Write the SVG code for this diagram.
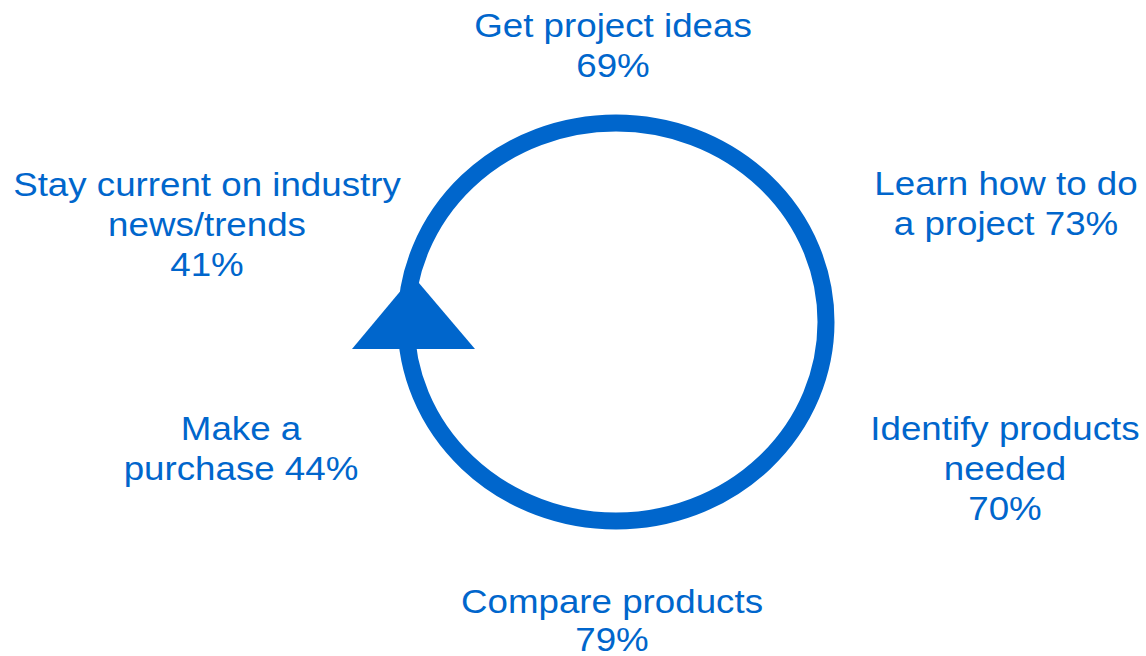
<svg xmlns="http://www.w3.org/2000/svg" width="1146" height="656" viewBox="0 0 1146 656">
  <style>
    .lbl { font-family: "Liberation Sans", Arial, sans-serif; font-size: 34px; fill: #0066CC; text-anchor: middle; }
    .ring { fill: none; stroke: #0066CC; stroke-width: 17; }
    .head { fill: #0066CC; }
  </style>
  <rect width="1146" height="656" fill="#FFFFFF"/>

  <!-- cycle ring with arrowhead -->
  <g id="connectors">
    <ellipse class="ring" cx="616" cy="322" rx="210" ry="199"/>
    <polygon class="head" points="413,276 475,349 352,349"/>
  </g>

  <g id="node-ideas" transform="translate(613,0) scale(1.08,1)">
    <text class="lbl" x="0" y="37">Get project ideas</text>
    <text class="lbl" x="0" y="77">69%</text>
  </g>

  <g id="node-learn" transform="translate(1006,0) scale(1.08,1)">
    <text class="lbl" x="0" y="195">Learn how to do</text>
    <text class="lbl" x="0" y="235">a project 73%</text>
  </g>

  <g id="node-identify" transform="translate(1005,0) scale(1.08,1)">
    <text class="lbl" x="0" y="440">Identify products</text>
    <text class="lbl" x="0" y="480">needed</text>
    <text class="lbl" x="0" y="520">70%</text>
  </g>

  <g id="node-compare" transform="translate(612,0) scale(1.08,1)">
    <text class="lbl" x="0" y="613">Compare products</text>
    <text class="lbl" x="0" y="651">79%</text>
  </g>

  <g id="node-purchase" transform="translate(241,0) scale(1.08,1)">
    <text class="lbl" x="0" y="440">Make a</text>
    <text class="lbl" x="0" y="480">purchase 44%</text>
  </g>

  <g id="node-news" transform="translate(207,0) scale(1.08,1)">
    <text class="lbl" x="0" y="196">Stay current on industry</text>
    <text class="lbl" x="0" y="236">news/trends</text>
    <text class="lbl" x="0" y="276">41%</text>
  </g>
</svg>
